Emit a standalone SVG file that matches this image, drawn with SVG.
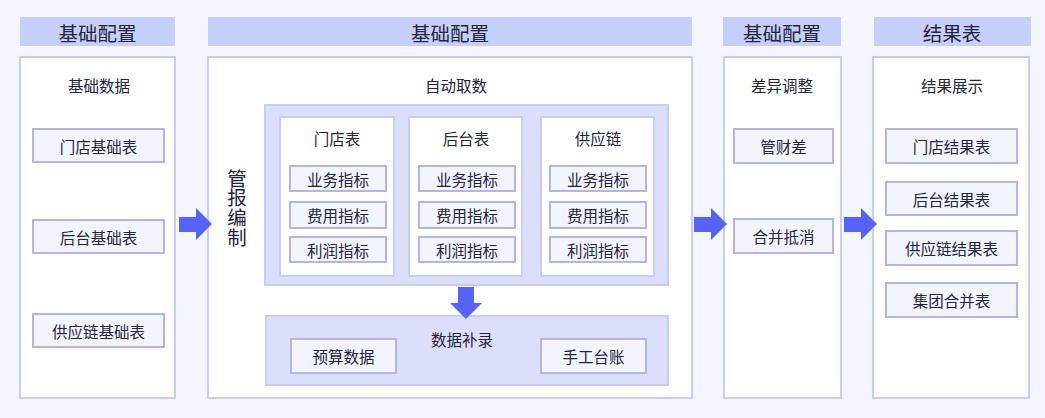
<svg xmlns="http://www.w3.org/2000/svg" width="1045" height="418" viewBox="0 0 1045 418">
<style>
text{font-family:"Noto Sans CJK SC","Noto Sans",sans-serif;fill:#25243f;text-anchor:middle;dominant-baseline:central}
.hd{fill:#c5cff8}
.hdt{font-size:19.5px}
.panel{fill:#ffffff;stroke:#c6cef5;stroke-width:2}
.inner{fill:#dcdffc;stroke:#c8ccf8;stroke-width:2}
.col{fill:#ffffff;stroke:#c8ccf8;stroke-width:2}
.item{fill:#f3f5fe;stroke:#b4b4e6;stroke-width:2}
.t{font-size:15.5px}
.arrow{fill:#5662f8}
.vt{font-size:19.5px;writing-mode:vertical-rl;letter-spacing:0.3px}
</style>
<rect x="0" y="0" width="1045" height="418" fill="#f3f6fe"/>

<g id="header1"><rect class="hd" x="20" y="17" width="155" height="29"/><text class="hdt" x="97.5" y="32">基础配置</text></g>
<g id="header2"><rect class="hd" x="208" y="17" width="484" height="29"/><text class="hdt" x="450" y="32">基础配置</text></g>
<g id="header3"><rect class="hd" x="723" y="17" width="118" height="29"/><text class="hdt" x="782" y="32">基础配置</text></g>
<g id="header4"><rect class="hd" x="874" y="17" width="157" height="29"/><text class="hdt" x="952" y="32">结果表</text></g>

<g id="panel-basic">
<rect class="panel" x="20" y="57" width="155" height="341"/>
<text class="t" x="99" y="85">基础数据</text>
</g>
<g id="n-store-base"><rect class="item" x="33" y="129" width="131" height="33"/><text class="t" x="98.5" y="146">门店基础表</text></g>
<g id="n-back-base"><rect class="item" x="33" y="220" width="131" height="33"/><text class="t" x="98.5" y="237">后台基础表</text></g>
<g id="n-supply-base"><rect class="item" x="33" y="314" width="131" height="33"/><text class="t" x="98.5" y="331">供应链基础表</text></g>

<g id="panel-report">
<rect class="panel" x="208" y="57" width="484" height="341"/>
<text class="t" x="456" y="85">自动取数</text>
<text class="vt" x="237" y="208">管报编制</text>
</g>
<g id="auto-fetch"><rect class="inner" x="265" y="105" width="403" height="180"/></g>

<g id="col-store">
<rect class="col" x="280" y="117" width="114" height="159"/>
<text class="t" x="337" y="138">门店表</text>
</g>
<g id="n-store-biz"><rect class="item" x="290" y="166" width="96" height="25"/><text class="t" x="338" y="178.5">业务指标</text></g>
<g id="n-store-cost"><rect class="item" x="290" y="202" width="96" height="26"/><text class="t" x="338" y="215">费用指标</text></g>
<g id="n-store-profit"><rect class="item" x="290" y="237" width="96" height="25"/><text class="t" x="338" y="249.5">利润指标</text></g>

<g id="col-back">
<rect class="col" x="409" y="117" width="113" height="159"/>
<text class="t" x="466" y="138">后台表</text>
</g>
<g id="n-back-biz"><rect class="item" x="419" y="166" width="96" height="25"/><text class="t" x="467" y="178.5">业务指标</text></g>
<g id="n-back-cost"><rect class="item" x="419" y="202" width="96" height="26"/><text class="t" x="467" y="215">费用指标</text></g>
<g id="n-back-profit"><rect class="item" x="419" y="237" width="96" height="25"/><text class="t" x="467" y="249.5">利润指标</text></g>

<g id="col-supply">
<rect class="col" x="541" y="117" width="113" height="159"/>
<text class="t" x="598" y="138">供应链</text>
</g>
<g id="n-supply-biz"><rect class="item" x="550" y="166" width="96" height="25"/><text class="t" x="598" y="178.5">业务指标</text></g>
<g id="n-supply-cost"><rect class="item" x="550" y="202" width="96" height="26"/><text class="t" x="598" y="215">费用指标</text></g>
<g id="n-supply-profit"><rect class="item" x="550" y="237" width="96" height="25"/><text class="t" x="598" y="249.5">利润指标</text></g>

<g id="supplement">
<rect class="inner" x="266" y="316" width="402" height="69"/>
<text class="t" x="462" y="339">数据补录</text>
</g>
<g id="n-budget"><rect class="item" x="291" y="339" width="105" height="34"/><text class="t" x="343.5" y="356">预算数据</text></g>
<g id="n-manual"><rect class="item" x="541" y="339" width="105" height="34"/><text class="t" x="593.5" y="356">手工台账</text></g>

<g id="panel-adjust">
<rect class="panel" x="724" y="57" width="117" height="341"/>
<text class="t" x="782" y="85">差异调整</text>
</g>
<g id="n-diff"><rect class="item" x="734" y="129" width="99" height="34"/><text class="t" x="783.5" y="146">管财差</text></g>
<g id="n-merge"><rect class="item" x="734" y="219" width="99" height="34"/><text class="t" x="783.5" y="236">合并抵消</text></g>

<g id="panel-result">
<rect class="panel" x="873" y="57" width="156" height="341"/>
<text class="t" x="952" y="85">结果展示</text>
</g>
<g id="n-store-res"><rect class="item" x="886" y="129" width="131" height="34"/><text class="t" x="951.5" y="146">门店结果表</text></g>
<g id="n-back-res"><rect class="item" x="886" y="182" width="131" height="33"/><text class="t" x="951.5" y="198.5">后台结果表</text></g>
<g id="n-supply-res"><rect class="item" x="886" y="231" width="131" height="34"/><text class="t" x="951.5" y="248">供应链结果表</text></g>
<g id="n-group-res"><rect class="item" x="886" y="283" width="131" height="34"/><text class="t" x="951.5" y="300">集团合并表</text></g>

<g id="connectors">
<polygon class="arrow" points="179,217 196,217 196,208 212,224 196,240 196,232 179,232"/>
<polygon class="arrow" points="694,217 711,217 711,208 727,224 711,240 711,232 694,232"/>
<polygon class="arrow" points="844,217 861,217 861,208 877,224 861,240 861,232 844,232"/>
<polygon class="arrow" points="458,287 474,287 474,303 482,303 466,319 450,303 458,303"/>
</g>
</svg>
